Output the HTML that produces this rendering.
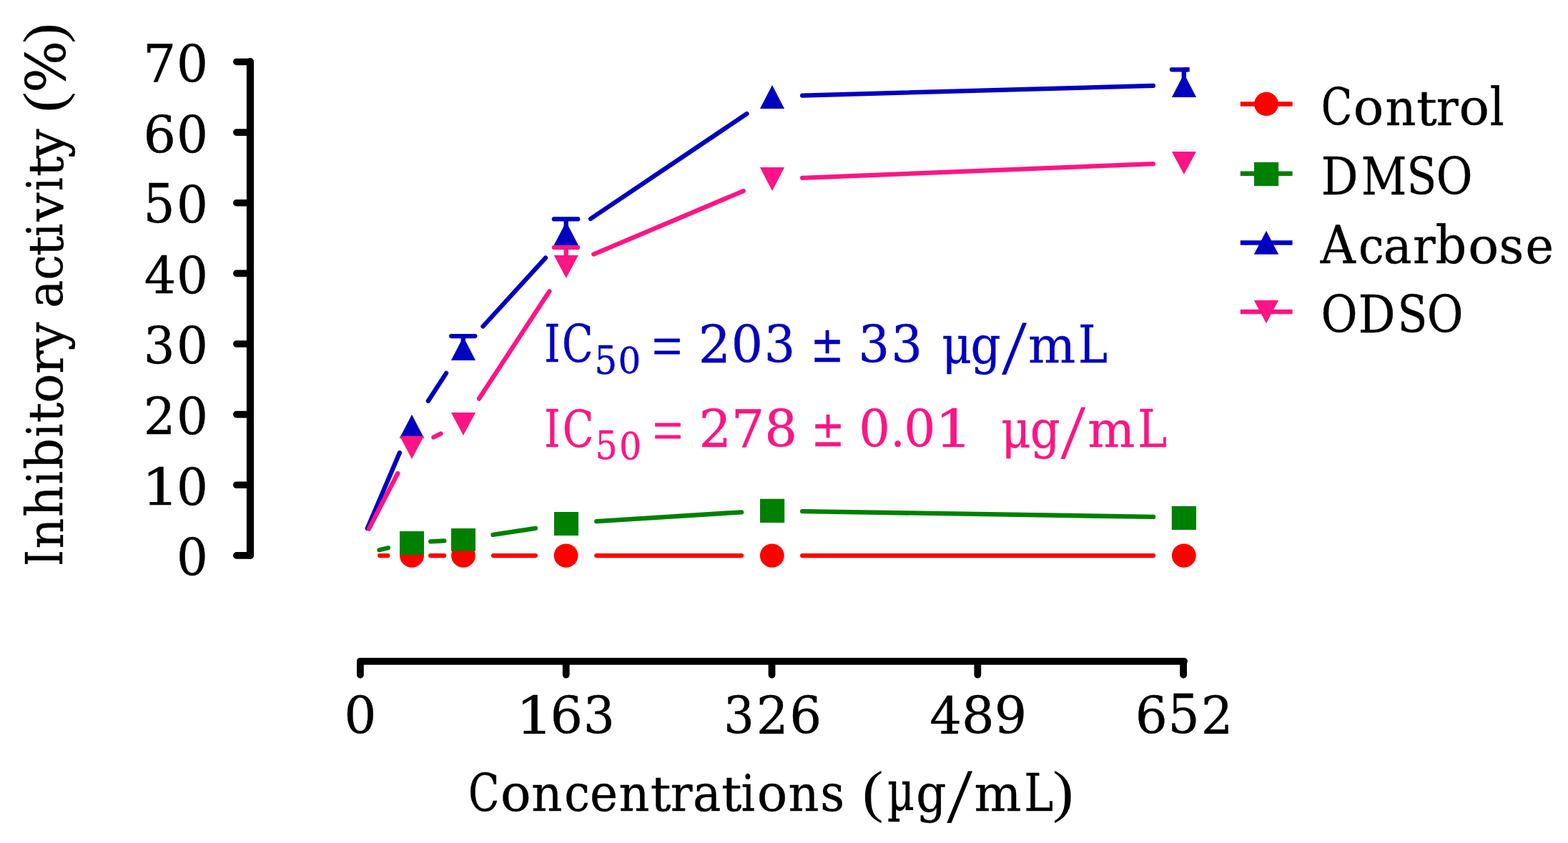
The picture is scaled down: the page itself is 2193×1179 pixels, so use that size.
<!DOCTYPE html>
<html lang="en">
<head>
<meta charset="utf-8">
<title>Inhibitory activity (%)</title>
<style>
html,body{margin:0;padding:0;background:#fff;}
body{width:2193px;height:1179px;overflow:hidden;}
svg{display:block;}
text{font-family:"DejaVu Serif","Liberation Serif",serif;font-size:72px;white-space:pre;}
</style>
</head>
<body>
<svg width="2193" height="1179" viewBox="0 0 2193 1179">
<rect width="2193" height="1179" fill="#fff"/>
<path d="M349.95 86V776.95" fill="none" stroke="#000" stroke-width="10.1" stroke-linecap="round"/>
<path d="M330.8 86.45H349.95M330.8 185.09H349.95M330.8 283.72H349.95M330.8 382.36H349.95M330.8 480.99H349.95M330.8 579.62H349.95M330.8 678.26H349.95M330.8 776.90H349.95" fill="none" stroke="#000" stroke-width="9.6" stroke-linecap="round"/>
<path d="M503.9 924.85H1656.1" fill="none" stroke="#000" stroke-width="9.8" stroke-linecap="round"/>
<path d="M503.90 924.85V943.8M791.70 924.85V943.8M1079.50 924.85V943.8M1367.30 924.85V943.8M1655.10 924.85V943.8" fill="none" stroke="#000" stroke-width="9.8" stroke-linecap="round"/>
<path d="M531.2 777.1L542.3 777.1M602.2 777.1L621.1 777.1M690.1 777.1L748.9 777.1M834.3 777.1L1037.0 777.1M1122.2 777.1L1613.0 777.1" fill="none" stroke="#ff0000" stroke-width="6.3" stroke-linecap="round"/>
<ellipse cx="576.0" cy="777.05" rx="16.95" ry="16.65" fill="#ff0000"/>
<ellipse cx="648.0" cy="777.05" rx="16.95" ry="16.65" fill="#ff0000"/>
<ellipse cx="791.6" cy="777.05" rx="16.95" ry="16.65" fill="#ff0000"/>
<ellipse cx="1079.8" cy="777.05" rx="16.95" ry="16.65" fill="#ff0000"/>
<ellipse cx="1655.8" cy="777.05" rx="16.95" ry="16.65" fill="#ff0000"/>
<path d="M530.4 769.3L542.9 766.3M602.2 757.4L621.3 756.4M689.5 747.9L749.0 738.8M834.3 729.2L1037.1 716.3M1122.1 715.1L1613.1 722.9" fill="none" stroke="#008000" stroke-width="6.3" stroke-linecap="round"/>
<rect x="559" y="743" width="34.0" height="33.0" fill="#008000"/>
<rect x="631" y="739" width="34.0" height="31.8" fill="#008000"/>
<rect x="775" y="716" width="34.0" height="33.0" fill="#008000"/>
<rect x="1063" y="697.7" width="34.2" height="33.3" fill="#008000"/>
<rect x="1638.8" y="707.9" width="34.2" height="33.1" fill="#008000"/>
<path d="M513.8 739.0L558.9 633.2M598.9 560.8L624.1 521.9M675.5 456.5L763.0 360.7M826.0 306.0L1044.4 159.1M1122.1 133.6L1612.9 119.9" fill="none" stroke="#0000c0" stroke-width="6.3" stroke-linecap="round"/>
<path d="M631.2 470.1L664.3 470.1M647.8 470.1L647.8 485.0M774.9 306.4L808.2 306.4M791.7 306.4L791.7 325.0M1638.9 97.3L1660.0 97.3M1655.8 97.3L1655.8 112.0" fill="none" stroke="#0000c0" stroke-width="6.3" stroke-linecap="round"/>
<rect x="1655" y="94.15" width="8.7" height="6.3" fill="#0000c0"/>
<path d="M576.0 579.8L593.1 612.8H558.9Z" fill="#0000c0"/>
<path d="M648.0 471.0L665.1 504.0H630.9Z" fill="#0000c0"/>
<path d="M791.8 310.0L808.9 343.0H774.7Z" fill="#0000c0"/>
<path d="M1080.0 118.9L1097.1 151.9H1062.9Z" fill="#0000c0"/>
<path d="M1656.0 103.0L1673.1 136.0H1638.9Z" fill="#0000c0"/>
<path d="M515.9 739.8L556.3 662.0M606.4 611.5L616.5 606.5M670.0 557.6L768.4 407.4M830.2 355.6L1039.7 267.1M1122.1 248.9L1612.9 229.1" fill="none" stroke="#fe1484" stroke-width="6.3" stroke-linecap="round"/>
<path d="M774.9 346.1L808.2 346.1M791.7 346.1L791.7 362.0" fill="none" stroke="#fe1484" stroke-width="6.3" stroke-linecap="round"/>
<path d="M558.9 609.8H593.1L576.0 642.0Z" fill="#fe1484"/>
<path d="M630.9 577.1H665.1L648.0 608.9Z" fill="#fe1484"/>
<path d="M774.7 357.0H808.9L791.8 389.0Z" fill="#fe1484"/>
<path d="M1062.9 234.1H1097.1L1080.0 267.1Z" fill="#fe1484"/>
<path d="M1638.8 212.0H1673.0L1655.9 244.1Z" fill="#fe1484"/>
<path d="M1734.8 145.5H1807.6" stroke="#ff0000" stroke-width="6.5" fill="none"/>
<path d="M1734.8 242.7H1807.6" stroke="#008000" stroke-width="6.5" fill="none"/>
<path d="M1734.8 339.4H1807.6" stroke="#0000c0" stroke-width="6.5" fill="none"/>
<path d="M1734.8 435.9H1807.6" stroke="#fe1484" stroke-width="6.5" fill="none"/>
<ellipse cx="1771.05" cy="145.47" rx="16.95" ry="16.65" fill="#ff0000"/>
<rect x="1754" y="226.9" width="34.2" height="33.2" fill="#008000"/>
<path d="M1771.0 322.8L1788.2 355.8H1753.8Z" fill="#0000c0"/>
<path d="M1753.8 419.9H1788.2L1771.0 452.2Z" fill="#fe1484"/>
<text fill="#000" stroke="#000" stroke-width="0.4" stroke-linejoin="round"><tspan x="200.09" y="114" font-size="72" textLength="46.32" lengthAdjust="spacingAndGlyphs">7</tspan><tspan x="247.09" y="114" font-size="70.17" textLength="43.93" lengthAdjust="spacingAndGlyphs">0</tspan></text>
<text fill="#000" stroke="#000" stroke-width="0.4" stroke-linejoin="round"><tspan x="200.57" y="213" font-size="70.13" textLength="45.57" lengthAdjust="spacingAndGlyphs">6</tspan><tspan x="247.09" y="213" font-size="70.17" textLength="43.93" lengthAdjust="spacingAndGlyphs">0</tspan></text>
<text fill="#000" stroke="#000" stroke-width="0.4" stroke-linejoin="round"><tspan x="200.42" y="311" font-size="74.26" textLength="44.08" lengthAdjust="spacingAndGlyphs">5</tspan><tspan x="247.09" y="311" font-size="70.37" textLength="43.87" lengthAdjust="spacingAndGlyphs">0</tspan></text>
<text fill="#000" stroke="#000" stroke-width="0.4" stroke-linejoin="round"><tspan x="201.65" y="410" font-size="70.28" textLength="44.58" lengthAdjust="spacingAndGlyphs">4</tspan><tspan x="247.09" y="410" font-size="70.17" textLength="43.93" lengthAdjust="spacingAndGlyphs">0</tspan></text>
<text fill="#000" stroke="#000" stroke-width="0.4" stroke-linejoin="round"><tspan x="200.69" y="508" font-size="70.14" textLength="43.72" lengthAdjust="spacingAndGlyphs">3</tspan><tspan x="247.09" y="508" font-size="70.37" textLength="43.87" lengthAdjust="spacingAndGlyphs">0</tspan></text>
<text fill="#000" stroke="#000" stroke-width="0.4" stroke-linejoin="round"><tspan x="200.65" y="607" font-size="71.22" textLength="44.66" lengthAdjust="spacingAndGlyphs">2</tspan><tspan x="247.09" y="607" font-size="70.17" textLength="43.93" lengthAdjust="spacingAndGlyphs">0</tspan></text>
<text fill="#000" stroke="#000" stroke-width="0.4" stroke-linejoin="round"><tspan x="197.82" y="706" font-size="71.07" textLength="53.14" lengthAdjust="spacingAndGlyphs">1</tspan><tspan x="247.09" y="706" font-size="70.17" textLength="43.93" lengthAdjust="spacingAndGlyphs">0</tspan></text>
<text fill="#000" stroke="#000" stroke-width="0.4" stroke-linejoin="round"><tspan x="247.09" y="804" font-size="70.37" textLength="43.87" lengthAdjust="spacingAndGlyphs">0</tspan></text>
<text fill="#000" stroke="#000" stroke-width="0.4" stroke-linejoin="round"><tspan x="481.26" y="1025" font-size="70.37" textLength="45.24" lengthAdjust="spacingAndGlyphs">0</tspan></text>
<text fill="#000" stroke="#000" stroke-width="0.4" stroke-linejoin="round"><tspan x="720.90" y="1027" font-size="72.07" textLength="53.04" lengthAdjust="spacingAndGlyphs">1</tspan><tspan x="769.57" y="1025" font-size="70.13" textLength="45.57" lengthAdjust="spacingAndGlyphs">6</tspan><tspan x="815.64" y="1025" font-size="70.14" textLength="44.11" lengthAdjust="spacingAndGlyphs">3</tspan></text>
<text fill="#000" stroke="#000" stroke-width="0.4" stroke-linejoin="round"><tspan x="1011.88" y="1025" font-size="70.14" textLength="42.94" lengthAdjust="spacingAndGlyphs">3</tspan><tspan x="1057.78" y="1027" font-size="72.02" textLength="44.93" lengthAdjust="spacingAndGlyphs">2</tspan><tspan x="1104.13" y="1025" font-size="70.13" textLength="44.95" lengthAdjust="spacingAndGlyphs">6</tspan></text>
<text fill="#000" stroke="#000" stroke-width="0.4" stroke-linejoin="round"><tspan x="1300.15" y="1026" font-size="70.28" textLength="44.69" lengthAdjust="spacingAndGlyphs">4</tspan><tspan x="1344.95" y="1025" font-size="70.33" textLength="45.74" lengthAdjust="spacingAndGlyphs">8</tspan><tspan x="1390.85" y="1025" font-size="70.11" textLength="45.39" lengthAdjust="spacingAndGlyphs">9</tspan></text>
<text fill="#000" stroke="#000" stroke-width="0.4" stroke-linejoin="round"><tspan x="1587.82" y="1025" font-size="70.13" textLength="45.07" lengthAdjust="spacingAndGlyphs">6</tspan><tspan x="1633.50" y="1025" font-size="74.06" textLength="44.17" lengthAdjust="spacingAndGlyphs">5</tspan><tspan x="1679.80" y="1027" font-size="72.02" textLength="44.66" lengthAdjust="spacingAndGlyphs">2</tspan></text>
<text fill="#000" stroke="#000" stroke-width="0.4" stroke-linejoin="round"><tspan x="654.96" y="1135" font-size="72.12" textLength="43.48" lengthAdjust="spacingAndGlyphs">C</tspan><tspan x="699.95" y="1134" font-size="70.24" textLength="42.65" lengthAdjust="spacingAndGlyphs">o</tspan><tspan x="743.18" y="1134" font-size="68.59" textLength="43.40" lengthAdjust="spacingAndGlyphs">n</tspan><tspan x="789.29" y="1134" font-size="70.25" textLength="35.69" lengthAdjust="spacingAndGlyphs">c</tspan><tspan x="825.08" y="1134" font-size="70.24" textLength="39.10" lengthAdjust="spacingAndGlyphs">e</tspan><tspan x="865.50" y="1134" font-size="68.59" textLength="42.96" lengthAdjust="spacingAndGlyphs">n</tspan><tspan x="909.73" y="1134" font-size="66.38" textLength="28.75" lengthAdjust="spacingAndGlyphs">t</tspan><tspan x="937.78" y="1134" font-size="68.58" textLength="30.73" lengthAdjust="spacingAndGlyphs">r</tspan><tspan x="968.96" y="1134" font-size="70.27" textLength="39.43" lengthAdjust="spacingAndGlyphs">a</tspan><tspan x="1008.95" y="1134" font-size="66.38" textLength="28.53" lengthAdjust="spacingAndGlyphs">t</tspan><tspan x="1036.86" y="1134" font-size="70.17" textLength="19.05" lengthAdjust="spacingAndGlyphs">i</tspan><tspan x="1058.86" y="1134" font-size="70.24" textLength="42.53" lengthAdjust="spacingAndGlyphs">o</tspan><tspan x="1102.40" y="1134" font-size="68.59" textLength="42.96" lengthAdjust="spacingAndGlyphs">n</tspan><tspan x="1147.31" y="1134" font-size="70.28" textLength="33.93" lengthAdjust="spacingAndGlyphs">s</tspan> <tspan x="1206.11" y="1134" font-family="Liberation Serif" stroke-width="0" font-size="80.16" textLength="29.45" lengthAdjust="spacingAndGlyphs">(</tspan><tspan x="1240.89" y="1133" font-size="76.57" textLength="38.08" lengthAdjust="spacingAndGlyphs">µ</tspan><tspan x="1281.31" y="1135" font-size="72" textLength="42.24" lengthAdjust="spacingAndGlyphs">g</tspan><tspan x="1324.29" y="1150" font-family="Liberation Serif" stroke-width="0" font-size="107.8" textLength="35.82" lengthAdjust="spacingAndGlyphs">/</tspan><tspan x="1362.41" y="1134" font-size="68.43" textLength="66.09" lengthAdjust="spacingAndGlyphs">m</tspan><tspan x="1432.27" y="1134" font-size="72.12" textLength="41.06" lengthAdjust="spacingAndGlyphs">L</tspan><tspan x="1472.26" y="1134" font-family="Liberation Serif" stroke-width="0" font-size="80.95" textLength="29.22" lengthAdjust="spacingAndGlyphs">)</tspan></text>
<text fill="#000" stroke="#000" stroke-width="0.4" stroke-linejoin="round" transform="translate(87.9 789.3) rotate(-90)"><tspan x="-2.77" y="-0.498039" font-size="70.92" textLength="22.96" lengthAdjust="spacingAndGlyphs">I</tspan><tspan x="21.93" y="-0.271569" font-size="68.39" textLength="42.84" lengthAdjust="spacingAndGlyphs">n</tspan><tspan x="66.26" y="-0.748039" font-size="70.76" textLength="43.56" lengthAdjust="spacingAndGlyphs">h</tspan><tspan x="112.03" y="-0.67549" font-size="68.8" textLength="18.41" lengthAdjust="spacingAndGlyphs">i</tspan><tspan x="132.92" y="-0.828431" font-size="70.99" textLength="43.59" lengthAdjust="spacingAndGlyphs">b</tspan><tspan x="178.05" y="-0.67549" font-size="68.8" textLength="18.71" lengthAdjust="spacingAndGlyphs">i</tspan><tspan x="198.14" y="-0.232353" font-size="66.52" textLength="28.46" lengthAdjust="spacingAndGlyphs">t</tspan><tspan x="225.52" y="-0.444118" font-size="68.36" textLength="41.30" lengthAdjust="spacingAndGlyphs">o</tspan><tspan x="266.49" y="-0.261765" font-size="68.36" textLength="32.29" lengthAdjust="spacingAndGlyphs">r</tspan><tspan x="299.01" y="1.07157" font-size="72.05" textLength="39.83" lengthAdjust="spacingAndGlyphs">y</tspan> <tspan x="358.67" y="-0.438235" font-size="68.36" textLength="39.03" lengthAdjust="spacingAndGlyphs">a</tspan><tspan x="397.56" y="-0.446078" font-size="68.36" textLength="35.61" lengthAdjust="spacingAndGlyphs">c</tspan><tspan x="431.36" y="-0.232353" font-size="66.52" textLength="28.13" lengthAdjust="spacingAndGlyphs">t</tspan><tspan x="458.43" y="-0.67549" font-size="68.8" textLength="18.41" lengthAdjust="spacingAndGlyphs">i</tspan><tspan x="479.92" y="-0.297059" font-size="70.45" textLength="40.00" lengthAdjust="spacingAndGlyphs">v</tspan><tspan x="522.20" y="-0.67549" font-size="68.8" textLength="18.77" lengthAdjust="spacingAndGlyphs">i</tspan><tspan x="542.35" y="-0.232353" font-size="66.52" textLength="28.35" lengthAdjust="spacingAndGlyphs">t</tspan><tspan x="568.22" y="1.07157" font-size="72.05" textLength="40.82" lengthAdjust="spacingAndGlyphs">y</tspan> <tspan x="632.11" y="0.201961" font-family="Liberation Serif" stroke-width="0" font-size="80.18" textLength="28.80" lengthAdjust="spacingAndGlyphs">(</tspan><tspan x="659.55" y="3.50196" font-size="75.84" textLength="73.09" lengthAdjust="spacingAndGlyphs">%</tspan><tspan x="728.65" y="0.209804" font-family="Liberation Serif" stroke-width="0" font-size="81.17" textLength="28.49" lengthAdjust="spacingAndGlyphs">)</tspan></text>
<text fill="#000" stroke="#000" stroke-width="0.4" stroke-linejoin="round"><tspan x="1847.75" y="174" font-size="70.52" textLength="43.65" lengthAdjust="spacingAndGlyphs">C</tspan><tspan x="1892.73" y="174" font-size="68.84" textLength="42.58" lengthAdjust="spacingAndGlyphs">o</tspan><tspan x="1937.40" y="175" font-size="68.59" textLength="43.07" lengthAdjust="spacingAndGlyphs">n</tspan><tspan x="1980.93" y="175" font-size="66.38" textLength="28.85" lengthAdjust="spacingAndGlyphs">t</tspan><tspan x="2008.66" y="175" font-size="68.58" textLength="31.05" lengthAdjust="spacingAndGlyphs">r</tspan><tspan x="2040.64" y="174" font-size="68.84" textLength="42.46" lengthAdjust="spacingAndGlyphs">o</tspan><tspan x="2083.77" y="175" font-size="71.99" textLength="20.03" lengthAdjust="spacingAndGlyphs">l</tspan></text>
<text fill="#000" stroke="#000" stroke-width="0.4" stroke-linejoin="round"><tspan x="1847.40" y="272" font-size="72.12" textLength="52.16" lengthAdjust="spacingAndGlyphs">D</tspan><tspan x="1903.83" y="272" font-size="72.12" textLength="63.68" lengthAdjust="spacingAndGlyphs">M</tspan><tspan x="1967.53" y="271" font-size="71.07" textLength="41.79" lengthAdjust="spacingAndGlyphs">S</tspan><tspan x="2008.68" y="271" font-size="70.68" textLength="50.74" lengthAdjust="spacingAndGlyphs">O</tspan></text>
<text fill="#000" stroke="#000" stroke-width="0.4" stroke-linejoin="round"><tspan x="1846.84" y="368" font-size="72.14" textLength="49.01" lengthAdjust="spacingAndGlyphs">A</tspan><tspan x="1900.07" y="368" font-size="68.85" textLength="35.71" lengthAdjust="spacingAndGlyphs">c</tspan><tspan x="1934.82" y="368" font-size="68.87" textLength="39.81" lengthAdjust="spacingAndGlyphs">a</tspan><tspan x="1976.12" y="368" font-size="68.58" textLength="31.69" lengthAdjust="spacingAndGlyphs">r</tspan><tspan x="2007.53" y="368" font-size="72.06" textLength="43.64" lengthAdjust="spacingAndGlyphs">b</tspan><tspan x="2053.20" y="368" font-size="68.84" textLength="42.94" lengthAdjust="spacingAndGlyphs">o</tspan><tspan x="2096.50" y="368" font-size="68.88" textLength="34.74" lengthAdjust="spacingAndGlyphs">s</tspan><tspan x="2133.52" y="368" font-size="69.04" textLength="39.54" lengthAdjust="spacingAndGlyphs">e</tspan></text>
<text fill="#000" stroke="#000" stroke-width="0.4" stroke-linejoin="round"><tspan x="1847.46" y="464" font-size="70.68" textLength="51.09" lengthAdjust="spacingAndGlyphs">O</tspan><tspan x="1899.50" y="465" font-size="72.12" textLength="52.16" lengthAdjust="spacingAndGlyphs">D</tspan><tspan x="1954.41" y="464" font-size="71.07" textLength="41.92" lengthAdjust="spacingAndGlyphs">S</tspan><tspan x="1995.68" y="464" font-size="70.68" textLength="50.74" lengthAdjust="spacingAndGlyphs">O</tspan></text>
<text fill="#0000c0" stroke="#0000c0" stroke-width="0.4" stroke-linejoin="round"><tspan x="761.11" y="506" font-size="72.12" textLength="22.57" lengthAdjust="spacingAndGlyphs">I</tspan><tspan x="785.95" y="507" font-size="72.12" textLength="43.60" lengthAdjust="spacingAndGlyphs">C</tspan><tspan x="831.57" y="523" font-size="53.47" textLength="31.62" lengthAdjust="spacingAndGlyphs">5</tspan><tspan x="864.62" y="522" font-size="50.92" textLength="31.84" lengthAdjust="spacingAndGlyphs">0</tspan> <tspan x="911.95" y="512" font-family="Liberation Serif" stroke-width="0.8" font-size="81.6" textLength="42.14" lengthAdjust="spacingAndGlyphs">=</tspan> <tspan x="976.65" y="508" font-size="72.02" textLength="45.19" lengthAdjust="spacingAndGlyphs">2</tspan><tspan x="1022.86" y="506" font-size="70.37" textLength="44.25" lengthAdjust="spacingAndGlyphs">0</tspan><tspan x="1068.82" y="506" font-size="70.14" textLength="43.46" lengthAdjust="spacingAndGlyphs">3</tspan> <tspan x="1133.43" y="506" font-size="68.37" textLength="47.15" lengthAdjust="spacingAndGlyphs">±</tspan> <tspan x="1200.51" y="506" font-size="70.14" textLength="43.59" lengthAdjust="spacingAndGlyphs">3</tspan><tspan x="1246.62" y="506" font-size="70.14" textLength="43.46" lengthAdjust="spacingAndGlyphs">3</tspan> <tspan x="1317.20" y="508" font-size="72.13" textLength="41.66" lengthAdjust="spacingAndGlyphs">μ</tspan><tspan x="1357.51" y="508" font-size="72" textLength="42.24" lengthAdjust="spacingAndGlyphs">g</tspan><tspan x="1400.99" y="523" font-family="Liberation Serif" stroke-width="0" font-size="107.35" textLength="35.11" lengthAdjust="spacingAndGlyphs">/</tspan><tspan x="1438.10" y="507" font-size="68.43" textLength="66.30" lengthAdjust="spacingAndGlyphs">m</tspan><tspan x="1507.97" y="507" font-size="72.12" textLength="41.06" lengthAdjust="spacingAndGlyphs">L</tspan></text>
<text fill="#fe1484" stroke="#fe1484" stroke-width="0.4" stroke-linejoin="round"><tspan x="761.11" y="625" font-size="72.12" textLength="22.57" lengthAdjust="spacingAndGlyphs">I</tspan><tspan x="786.82" y="625" font-size="71.12" textLength="43.78" lengthAdjust="spacingAndGlyphs">C</tspan><tspan x="832.52" y="642" font-size="53.47" textLength="31.22" lengthAdjust="spacingAndGlyphs">5</tspan><tspan x="865.89" y="642" font-size="51.52" textLength="31.37" lengthAdjust="spacingAndGlyphs">0</tspan> <tspan x="912.63" y="630" font-family="Liberation Serif" stroke-width="0.8" font-size="81.6" textLength="42.37" lengthAdjust="spacingAndGlyphs">=</tspan> <tspan x="977.62" y="626" font-size="72.02" textLength="45.46" lengthAdjust="spacingAndGlyphs">2</tspan><tspan x="1022.76" y="625" font-size="72" textLength="46.58" lengthAdjust="spacingAndGlyphs">7</tspan><tspan x="1069.34" y="624" font-size="70.33" textLength="45.87" lengthAdjust="spacingAndGlyphs">8</tspan> <tspan x="1134.43" y="624" font-size="68.28" textLength="47.17" lengthAdjust="spacingAndGlyphs">±</tspan> <tspan x="1201.32" y="624" font-size="70.37" textLength="43.62" lengthAdjust="spacingAndGlyphs">0</tspan><tspan x="1245.38" y="624" font-size="64.61" textLength="20.11" lengthAdjust="spacingAndGlyphs">.</tspan><tspan x="1264.17" y="624" font-size="70.37" textLength="44.12" lengthAdjust="spacingAndGlyphs">0</tspan><tspan x="1307.04" y="626" font-size="72.07" textLength="53.38" lengthAdjust="spacingAndGlyphs">1</tspan>  <tspan x="1400.31" y="626" font-size="71.99" textLength="41.42" lengthAdjust="spacingAndGlyphs">μ</tspan><tspan x="1440.72" y="626" font-size="72" textLength="42.02" lengthAdjust="spacingAndGlyphs">g</tspan><tspan x="1483.29" y="641" font-family="Liberation Serif" stroke-width="0" font-size="107.35" textLength="35.00" lengthAdjust="spacingAndGlyphs">/</tspan><tspan x="1521.31" y="625" font-size="68.43" textLength="66.09" lengthAdjust="spacingAndGlyphs">m</tspan><tspan x="1591.17" y="625" font-size="72.12" textLength="41.06" lengthAdjust="spacingAndGlyphs">L</tspan></text>
</svg>
</body>
</html>
